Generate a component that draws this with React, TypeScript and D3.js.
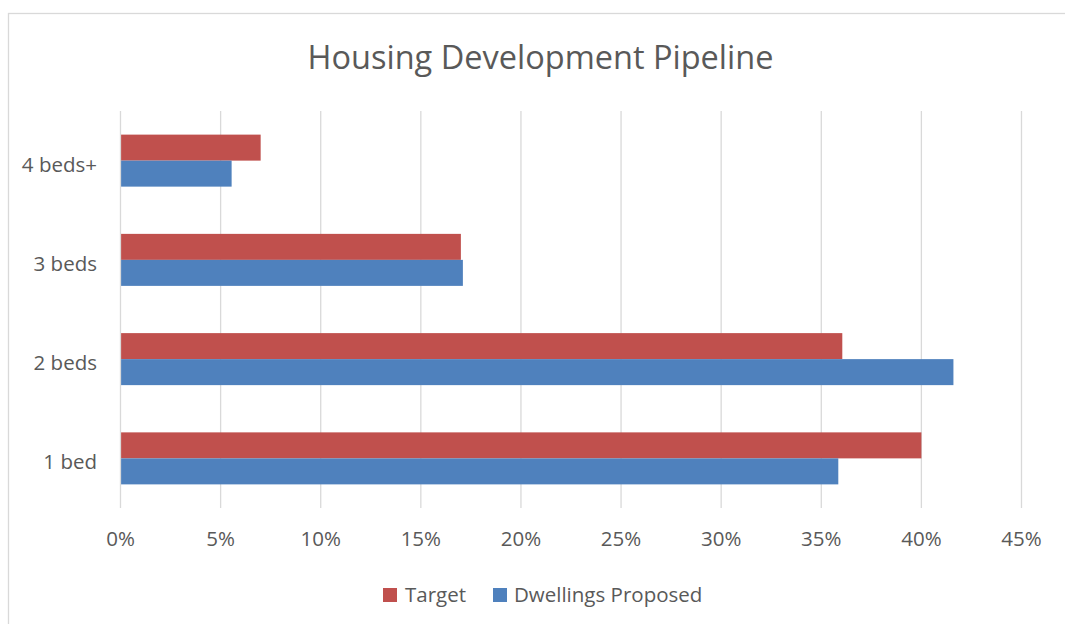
import React from "react";
import * as d3 from "d3";

const categories = ["4 beds+", "3 beds", "2 beds", "1 bed"];
const seriesNames = ["Target", "Dwellings Proposed"];
const targetValues = [7.0, 17.0, 36.05, 40.0];
const proposedValues = [5.55, 17.1, 41.6, 35.85];
const xTicks = [0, 5, 10, 15, 20, 25, 30, 35, 40, 45];
const colors = ["#C0504D", "#4F81BD"];

const W = 1065;
const H = 624;
const FONT = "'Open Sans', 'Noto Sans', sans-serif";
const TEXT = "#595959";
const FS = 20.5;

export default function App() {
  const x = d3.scaleLinear().domain([0, 45]).range([120.5, 1021.5]);
  const y = d3.scaleBand<string>().domain(categories).range([111, 508]).paddingInner(0.476).paddingOuter(0.238);
  const sub = d3.scaleBand<string>().domain(seriesNames).range([0, y.bandwidth()]);
  const series = [targetValues, proposedValues];

  return (
    <div style={{ position: "absolute", left: 0, top: 0 }}>
      <svg width={W} height={H} style={{ display: "block" }}>
        <rect x={0} y={0} width={W} height={H} fill="#fff" />
        <rect x={8.5} y={13.5} width={1070} height={640} fill="#fff" stroke="#d9d9d9" strokeWidth={1.3} />
        <text x={540.5} y={69} textAnchor="middle" fontFamily={FONT} fontSize={32.5} fill={TEXT}>
          Housing Development Pipeline
        </text>
        {xTicks.map((t) => (
          <line key={t} x1={x(t)} x2={x(t)} y1={111} y2={508} stroke="#d9d9d9" strokeWidth={1.3} />
        ))}
        {series.map((vals, si) =>
          categories.map((c, ci) => (
            <rect
              key={c + si}
              x={x(0) + 0.6}
              y={(y(c) as number) + (sub(seriesNames[si]) as number)}
              width={x(vals[ci]) - x(0) - 0.6}
              height={sub.bandwidth()}
              fill={colors[si]}
            />
          ))
        )}
        {categories.map((c) => (
          <text key={c} x={97} y={(y(c) as number) + y.bandwidth() / 2 + 11} textAnchor="end" fontFamily={FONT} fontSize={FS} fill={TEXT}>
            {c}
          </text>
        ))}
        {xTicks.map((t) => (
          <text key={t} x={x(t)} y={545.5} textAnchor="middle" fontFamily={FONT} fontSize={FS} fill={TEXT}>
            {t + "%"}
          </text>
        ))}
        <rect x={383} y={588} width={14} height={14} fill={colors[0]} />
        <text x={405} y={602} fontFamily={FONT} fontSize={FS} fill={TEXT}>{seriesNames[0]}</text>
        <rect x={493} y={588} width={14} height={14} fill={colors[1]} />
        <text x={514} y={602} fontFamily={FONT} fontSize={FS} fill={TEXT}>{seriesNames[1]}</text>
      </svg>
    </div>
  );
}
